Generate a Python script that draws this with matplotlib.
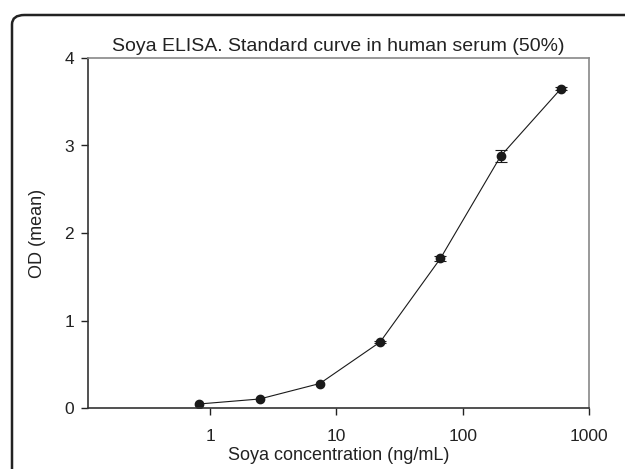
import matplotlib
matplotlib.use("Agg")
import matplotlib.pyplot as plt
from matplotlib.patches import FancyBboxPatch
import numpy as np

plt.rcParams['font.family'] = ['Liberation Sans', 'DejaVu Sans']

concentration = [0.82, 2.47, 7.4, 22.2, 66.7, 200, 600]
od_mean = [0.046, 0.103, 0.28, 0.754, 1.71, 2.88, 3.65]
od_err = [np.nan, np.nan, np.nan, 0.012, 0.025, 0.07, 0.015]

title = "Soya ELISA. Standard curve in human serum (50%)"
xlabel = "Soya concentration (ng/mL)"
ylabel = "OD (mean)"
xticks = [1, 10, 100, 1000]
xticklabels = ["1", "10", "100", "1000"]
yticks = [0, 1, 2, 3, 4]

W, H = 625, 469
fig = plt.figure(figsize=(W / 100, H / 100), dpi=100)
ax = fig.add_axes([88 / W, 1 - 408 / H, (589 - 88) / W, (408 - 58) / H])

ax.plot(concentration, od_mean, 'o-', color='#1a1a1a', markersize=6, linewidth=0.8)
ax.errorbar(concentration, od_mean, yerr=od_err, fmt='none',
            ecolor='#1a1a1a', elinewidth=0.8, capsize=4.5, capthick=0.8)
ax.set_xscale('log')
ax.set_xlim(0.108, 1000)
ax.set_ylim(0, 4)
ax.set_xticks(xticks)
ax.set_xticklabels(xticklabels)
ax.set_yticks(yticks)
ax.minorticks_off()
ax.tick_params(direction='out', length=5, width=1, labelsize=12.5, colors='#222222', pad=5)
ax.tick_params(axis='x', pad=10)
for side in ['left', 'bottom']:
    ax.spines[side].set_color('#333333')
    ax.spines[side].set_linewidth(1.2)
for side in ['right', 'top']:
    ax.spines[side].set_color('#888888')
    ax.spines[side].set_linewidth(1.2)

ax.set_title(title, fontsize=14, color='#222222', pad=5)
ax.set_xlabel(xlabel, fontsize=13, color='#222222', labelpad=2)
ax.set_ylabel(ylabel, fontsize=13, color='#222222', labelpad=13)

frame = FancyBboxPatch((12 / W, 1 - 700 / H), 900 / W, (700 - 15) / H,
                       boxstyle="round,pad=0,rounding_size=0.02",
                       transform=fig.transFigure, fill=False,
                       edgecolor='#222222', linewidth=1.8, clip_on=False)
fig.patches.append(frame)

fig.savefig("out.png", dpi=100)
